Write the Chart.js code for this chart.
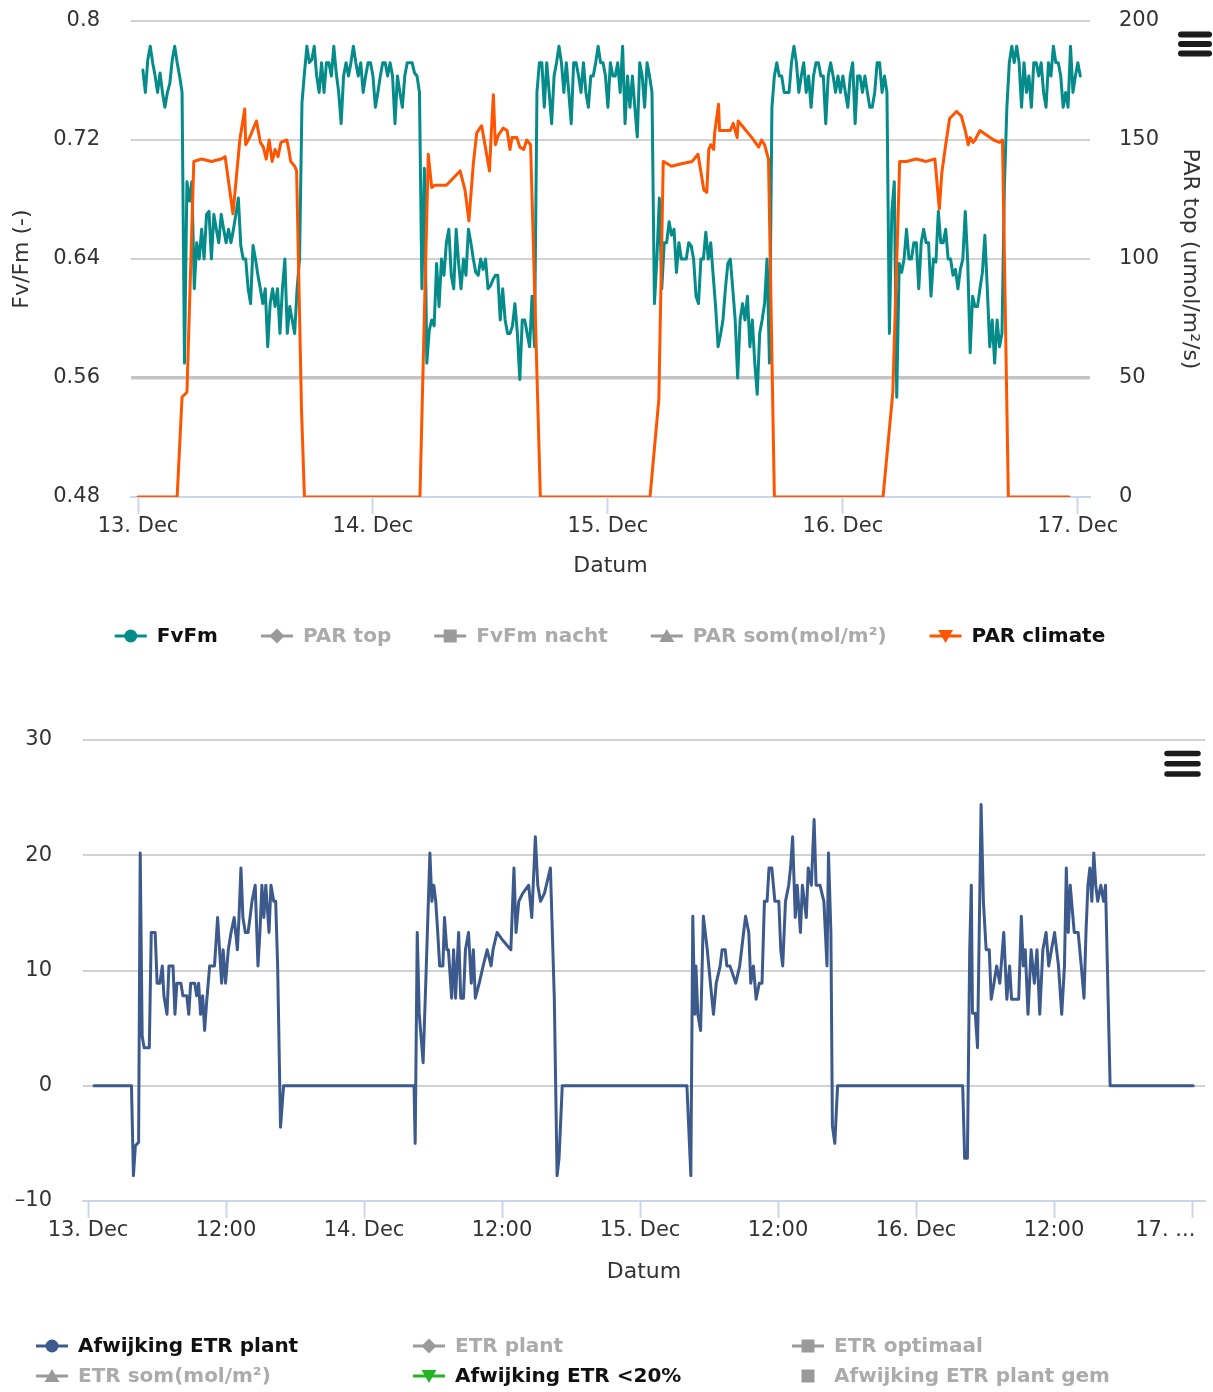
<!DOCTYPE html>
<html>
<head>
<meta charset="utf-8">
<script src="https://cdn.jsdelivr.net/npm/chart.js@4.4.1/dist/chart.umd.min.js"></script>
<style>
html,body{margin:0;padding:0;background:#ffffff;}
#w1{position:absolute;left:0;top:0;width:1213px;height:690px;}
#w2{position:absolute;left:0;top:700px;width:1213px;height:692px;}
canvas{display:block;}
</style>
</head>
<body>
<div id="w1"><canvas id="c1" width="1213" height="690"></canvas></div>
<div id="w2"><canvas id="c2" width="1213" height="692"></canvas></div>
<script>
// ---------- DATA (hours after 13 Dec 00:00) ----------
const topTickHours = [0, 24, 48, 72, 96];
const topTickLabels = ['13. Dec', '14. Dec', '15. Dec', '16. Dec', '17. Dec'];
const bottomTickHours = [0, 12, 24, 36, 48, 60, 72, 84, 96];
const bottomTickLabels = ['13. Dec', '12:00', '14. Dec', '12:00', '15. Dec', '12:00', '16. Dec', '12:00', '17. ...\u2007\u2007\u2007\u2007'];

const fvfmTickValues = [0.48, 0.56, 0.64, 0.72, 0.8];
const fvfmTickLabels = ['0.48', '0.56', '0.64', '0.72', '0.8'];
const parTickValues = [0, 50, 100, 150, 200];
const parTickLabels = ['0', '50', '100', '150', '200'];
const etrTickValues = [-10, 0, 10, 20, 30];
const etrTickLabels = ['\u201310', '0', '10', '20', '30'];

const topLegendLabels = ['FvFm', 'PAR top', 'FvFm nacht', 'PAR som(mol/m\u00b2)', 'PAR climate'];
const bottomLegendLabels = ['Afwijking ETR plant', 'ETR plant', 'ETR optimaal', 'ETR som(mol/m\u00b2)', 'Afwijking ETR <20%', 'Afwijking ETR plant gem'];

// FvFm measured every 15 minutes starting 00:30 on 13 Dec
const fvfmStartHour = 0.5;
const fvfmIntervalHours = 0.25;
const fvfmValues = [
0.767,0.752,0.774,0.783,0.772,0.763,0.752,0.765,0.752,0.742,0.752,0.758,0.774,0.783,0.772,0.763,0.752,
0.570,0.692,0.679,0.692,0.620,0.651,0.640,0.660,0.640,0.670,0.672,0.640,0.670,0.660,0.651,0.670,0.660,0.651,0.660,0.651,0.660,0.670,0.681,0.649,0.640,0.640,0.620,0.610,0.649,0.640,0.629,0.620,0.610,0.620,0.581,0.610,0.620,0.608,0.620,0.590,0.620,0.640,0.590,0.608,0.599,0.590,0.620,0.640,
0.745,0.765,0.783,0.772,0.774,0.783,0.763,0.752,0.772,0.752,0.772,0.772,0.763,0.783,0.765,0.752,0.731,0.763,0.772,0.763,0.772,0.783,0.772,0.763,0.772,0.752,0.763,0.772,0.772,0.763,0.742,0.752,0.763,0.772,0.772,0.763,0.772,0.763,0.731,0.763,0.752,0.742,0.763,0.772,0.772,0.772,0.765,0.763,0.752,
0.620,0.701,0.570,0.592,0.599,0.595,0.637,0.608,0.640,0.629,0.651,0.660,0.629,0.620,0.660,0.637,0.620,0.640,0.629,0.660,0.651,0.640,0.631,0.629,0.640,0.633,0.640,0.620,0.622,0.626,0.629,0.629,0.599,0.620,0.599,0.590,0.590,0.595,0.610,0.590,0.559,0.599,0.599,0.590,0.581,0.615,0.581,
0.752,0.772,0.772,0.742,0.772,0.752,0.731,0.763,0.772,0.783,0.772,0.752,0.772,0.752,0.731,0.772,0.772,0.763,0.752,0.772,0.752,0.742,0.763,0.763,0.772,0.783,0.772,0.772,0.763,0.742,0.772,0.763,0.763,0.772,0.752,0.783,0.731,0.763,0.742,0.763,0.742,0.722,0.772,0.763,0.742,0.772,0.763,0.752,
0.610,0.640,0.681,0.620,0.651,0.651,0.665,0.656,0.660,0.631,0.651,0.640,0.640,0.640,0.651,0.649,0.640,0.615,0.610,0.640,0.640,0.658,0.640,0.651,0.629,0.608,0.581,0.589,0.599,0.620,0.637,0.640,0.620,0.599,0.560,0.599,0.610,0.599,0.615,0.581,0.599,0.570,0.549,0.590,0.599,0.610,0.640,0.570,
0.742,0.763,0.772,0.763,0.763,0.752,0.752,0.752,0.772,0.783,0.772,0.752,0.763,0.772,0.752,0.763,0.742,0.763,0.772,0.772,0.763,0.763,0.731,0.763,0.772,0.763,0.752,0.763,0.752,0.763,0.752,0.742,0.763,0.772,0.731,0.763,0.763,0.752,0.763,0.752,0.742,0.742,0.752,0.772,0.772,0.752,0.763,0.752,
0.590,0.672,0.692,0.547,0.637,0.631,0.640,0.660,0.640,0.640,0.651,0.651,0.620,0.651,0.660,0.651,0.651,0.615,0.640,0.638,0.672,0.651,0.651,0.660,0.640,0.640,0.629,0.633,0.620,0.633,0.640,0.672,0.638,0.577,0.615,0.608,0.608,0.620,0.631,0.656,0.620,0.581,0.599,0.570,0.599,0.581,0.590,0.690,
0.742,0.772,0.783,0.772,0.783,0.772,0.742,0.772,0.752,0.763,0.742,0.772,0.772,0.763,0.772,0.752,0.742,0.772,0.763,0.783,0.772,0.772,0.763,0.742,0.752,0.742,0.783,0.752,0.763,0.772,0.763
];

const parHours = [
0,4.0,4.5,5.0,5.7,6.5,7.5,8.5,8.9,9.7,10.4,10.9,11.0,11.4,12.1,12.5,12.8,13.1,13.4,13.7,14.0,14.3,14.6,15.2,15.4,15.6,16.0,16.2,16.7,17.0,
28.8,29.65,30.0,30.3,31.5,32.9,33.4,33.8,34.25,34.6,35.1,35.4,35.9,36.1,36.3,36.5,36.8,37.3,37.7,38.0,38.2,38.7,39.0,39.4,39.7,40.1,41.1,
52.3,53.2,53.65,54.5,55.5,56.6,57.2,57.6,57.8,58.1,58.3,58.5,58.8,58.9,59.3,59.4,60.5,60.8,61.2,61.3,61.7,62.7,63.4,63.7,64.0,64.4,65.0,
76.1,77.1,77.8,78.5,79.5,80.5,81.4,81.85,82.1,82.5,82.9,83.6,84.1,84.5,84.8,85.0,85.3,85.5,86.0,86.7,87.4,88.0,88.3,88.9,95.1
];
const parValues = [
0,0,42,44,141,142,141,142,143,119,150,163,148,151,158,149,147,142,150,141,146,143,149,150,146,141,139,137,37,0,
0,144,130,131,131,137,129,116,140,153,156,149,137,154,169,148,152,155,154,146,151,151,147,146,150,148,0,
0,41,141,139,140,141,144,134,129,128,146,148,146,153,165,154,154,157,151,158,156,151,147,150,148,142,0,
0,44,141,141,142,141,142,121,136,148,159,162,160,154,148,151,149,150,154,152,150,149,150,0,0
];

const etrHours = [
0.52,3.78,3.95,4.12,4.40,4.54,4.71,4.88,5.33,5.50,5.84,6.01,6.25,6.46,6.60,6.87,7.04,7.39,7.56,7.73,8.08,8.25,8.59,8.76,8.93,9.28,9.45,9.62,9.79,9.97,10.14,10.31,10.58,11.00,11.27,11.44,11.62,11.75,11.96,12.20,12.44,12.71,12.99,13.13,13.30,13.47,13.68,13.92,14.09,14.26,14.54,14.78,14.95,15.12,15.29,15.46,15.74,15.91,16.15,16.32,16.49,16.74,17.01,28.35,
28.45,28.63,28.80,29.14,29.38,29.73,29.90,30.07,30.24,30.41,30.58,30.86,31.00,31.20,31.34,31.62,31.79,31.96,32.23,32.41,32.65,32.82,33.09,33.33,33.51,33.68,34.02,34.36,34.71,35.05,35.22,35.57,36.08,36.77,37.04,37.22,37.46,37.80,38.32,38.59,38.90,39.11,39.35,39.69,40.21,40.55,40.79,40.96,41.24,
52.08,52.42,52.59,52.76,52.86,53.03,53.27,53.51,53.85,54.12,54.39,54.63,54.97,55.14,55.41,55.55,55.82,56.33,56.67,57.01,57.18,57.46,57.63,57.86,58.10,58.37,58.61,58.82,59.05,59.22,59.46,59.73,60.07,60.24,60.41,60.65,60.93,61.10,61.27,61.50,61.67,61.95,62.12,62.46,62.63,62.90,63.14,63.31,63.65,63.99,64.26,64.39,64.60,64.73,64.94,65.18,76.06,
76.23,76.47,76.67,76.81,76.91,77.15,77.35,77.66,77.86,78.10,78.37,78.54,78.78,79.01,79.29,79.63,79.90,80.14,80.31,80.65,80.93,81.16,81.33,81.50,81.74,82.01,82.29,82.52,82.76,83.03,83.31,83.54,83.78,84.05,84.39,84.67,84.91,85.07,85.24,85.41,85.76,86.10,86.37,86.61,86.78,86.95,87.12,87.29,87.46,87.63,87.80,88.07,88.31,88.48,88.88,96.10
];
const etrValues = [
0,0,-7.8,-5.2,-4.9,20.2,4.3,3.3,3.3,13.3,13.3,8.9,8.9,10.4,7.8,6.2,10.4,10.4,6.2,8.9,8.9,7.8,7.8,6.2,8.9,8.9,7.8,8.9,6.2,7.8,4.8,7.2,10.4,10.4,14.6,11.8,8.9,11.8,8.9,11.8,13.3,14.6,11.8,14.6,18.9,14.6,13.3,13.3,14.6,16.0,17.4,10.4,13.3,17.4,14.6,17.4,13.3,17.4,16.0,16.0,10.4,-3.6,0,0,
-5.0,13.3,6.3,2.0,9.2,20.2,16.0,17.4,16.0,13.3,10.4,10.4,14.6,11.8,11.8,7.6,11.8,7.6,13.3,7.6,7.6,11.8,13.3,8.9,11.8,7.6,8.9,10.4,11.8,10.4,11.8,13.3,12.6,11.8,18.9,13.3,16.0,16.7,17.4,14.6,21.6,17.4,16.0,16.7,18.9,7.5,-7.8,-6.3,0,
0,-7.8,14.7,6.2,10.4,6.2,4.8,14.7,11.8,8.9,6.2,8.9,10.4,11.8,11.8,10.4,10.4,8.9,10.4,13.3,14.7,13.3,8.9,10.4,7.5,8.9,8.9,16.0,16.0,18.9,18.9,16.0,16.0,11.8,10.4,16.0,17.4,19.0,21.6,14.6,17.4,13.3,17.4,14.6,18.9,17.4,23.1,17.4,17.4,16.0,10.4,20.2,13.3,-3.5,-5.0,0,0,
-6.3,-6.3,11.8,17.4,6.3,6.3,3.3,24.4,16.0,11.8,11.8,7.5,8.9,10.4,8.9,13.3,7.5,10.4,7.5,7.5,7.5,14.7,10.4,11.8,6.2,11.8,8.9,11.8,6.2,11.8,13.3,10.4,11.8,13.3,10.4,6.2,10.4,18.9,13.3,17.4,13.3,13.3,10.4,7.6,13.3,17.4,18.9,16.0,20.2,17.4,16.0,17.4,16.0,17.4,0,0
];

// ---------- STYLE ----------
const FONT = "'DejaVu Sans', sans-serif";
const tickFont = {family: FONT, size: 21};
const titleFont = {family: FONT, size: 22};
const TEXT = '#333333';
const GRID = '#d2d2d2';
const AXIS = '#ccd6eb';
const TEAL = '#058c8a';
const ORANGE = '#ff5500';
const BLUE = '#3d5a8d';
const GREEN = '#23b423';
const HIDDEN_SYMBOL = '#9a9a9a';
const HIDDEN_TEXT = '#ababab';

Chart.defaults.font.family = FONT;

function drawMarker(ctx, style, x, y, color) {
  ctx.fillStyle = color;
  ctx.beginPath();
  if (style === 'circle') ctx.arc(x, y, 6.5, 0, Math.PI * 2);
  else if (style === 'diamond') { ctx.moveTo(x, y - 7.5); ctx.lineTo(x + 7.5, y); ctx.lineTo(x, y + 7.5); ctx.lineTo(x - 7.5, y); ctx.closePath(); }
  else if (style === 'square') ctx.rect(x - 6.5, y - 6.5, 13, 13);
  else if (style === 'triangle') { ctx.moveTo(x, y - 7); ctx.lineTo(x + 7.5, y + 6); ctx.lineTo(x - 7.5, y + 6); ctx.closePath(); }
  else if (style === 'triangle-down') { ctx.moveTo(x, y + 7); ctx.lineTo(x + 7.5, y - 6); ctx.lineTo(x - 7.5, y - 6); ctx.closePath(); }
  ctx.fill();
}

function legendPlugin(cfg) {
  return {
    id: 'hcLegend',
    afterDraw(chart) {
      const ctx = chart.ctx;
      ctx.save();
      ctx.font = 'bold 20px ' + FONT;
      const items = chart.data.datasets.map((ds, i) => ({
        text: ds.label, color: ds.legendColor, style: ds.legendSymbol,
        line: ds.legendLine !== false, visible: chart.isDatasetVisible(i)
      }));
      let pos;
      if (cfg.columns) {
        pos = items.map((it, i) => ({x: cfg.columns[i % cfg.columns.length], y: cfg.rows[Math.floor(i / cfg.columns.length)]}));
      } else {
        const widths = items.map(it => 42 + ctx.measureText(it.text).width);
        const total = widths.reduce((a, b) => a + b, 0) + cfg.gap * (items.length - 1);
        let x = cfg.centerX - total / 2;
        pos = widths.map(w => { const p = {x: x, y: cfg.y}; x += w + cfg.gap; return p; });
      }
      items.forEach((it, i) => {
        const p = pos[i];
        const sc = it.visible ? it.color : HIDDEN_SYMBOL;
        if (it.line) {
          ctx.strokeStyle = sc; ctx.lineWidth = 3;
          ctx.beginPath(); ctx.moveTo(p.x, p.y); ctx.lineTo(p.x + 32, p.y); ctx.stroke();
        }
        drawMarker(ctx, it.style, p.x + 16, p.y, sc);
        ctx.fillStyle = it.visible ? '#111111' : HIDDEN_TEXT;
        ctx.textAlign = 'left'; ctx.textBaseline = 'middle';
        ctx.fillText(it.text, p.x + 42, p.y + 1);
      });
      ctx.restore();
    }
  };
}

function menuPlugin(x1, x2, ys, w) {
  return {
    id: 'menuIcon',
    afterDraw(chart) {
      const c = chart.ctx;
      c.save();
      c.strokeStyle = '#1b1b1b'; c.lineWidth = w; c.lineCap = 'round';
      ys.forEach(y => { c.beginPath(); c.moveTo(x1, y); c.lineTo(x2, y); c.stroke(); });
      c.restore();
    }
  };
}

function xScale(min, max, hours, labels, titlePadBottom) {
  return {
    type: 'linear', position: 'bottom', min: min, max: max,
    afterBuildTicks: s => { s.ticks = hours.map(v => ({value: v})); },
    afterFit: s => { s.height = 90; s.paddingLeft = 0; s.paddingRight = 0; },
    ticks: {autoSkip: false, maxRotation: 0, minRotation: 0, padding: 0, font: tickFont, color: TEXT,
      callback: (v, i) => labels[i]},
    grid: {drawOnChartArea: false, drawTicks: true, tickLength: 17, tickColor: AXIS, tickWidth: 2},
    border: {display: true, color: AXIS, width: 2},
    title: {display: true, text: 'Datum', font: titleFont, color: TEXT, padding: {top: 0, bottom: titlePadBottom}}
  };
}

function fitY(width) {
  return s => { s.width = width; s.paddingTop = 0; s.paddingBottom = 0; };
}

function lineSet(label, xs, ys, color, axis, symbol, order) {
  return {
    label: label, data: xs.map((x, i) => ({x: x, y: ys[i]})), yAxisID: axis,
    borderColor: color, backgroundColor: color, borderWidth: 3, pointRadius: 0, tension: 0,
    borderJoinStyle: 'round', borderCapStyle: 'round', fill: false,
    legendColor: color, legendSymbol: symbol, order: order
  };
}
function hiddenSet(label, axis, symbol, line) {
  return {label: label, data: [], yAxisID: axis, hidden: true, legendColor: HIDDEN_SYMBOL, legendSymbol: symbol, legendLine: line !== false};
}

// ---------- TOP CHART ----------
const fvfmHours = fvfmValues.map((v, i) => fvfmStartHour + i * fvfmIntervalHours);

new Chart(document.getElementById('c1'), {
  type: 'line',
  data: {
    datasets: [
      lineSet(topLegendLabels[0], fvfmHours, fvfmValues, TEAL, 'y', 'circle', 1),
      hiddenSet(topLegendLabels[1], 'y2', 'diamond'),
      hiddenSet(topLegendLabels[2], 'y', 'square'),
      hiddenSet(topLegendLabels[3], 'y2', 'triangle'),
      lineSet(topLegendLabels[4], parHours, parValues, ORANGE, 'y2', 'triangle-down', 0)
    ]
  },
  options: {
    responsive: false, animation: false, devicePixelRatio: 1,
    layout: {padding: {top: 21, bottom: 103, left: 0, right: 0}},
    plugins: {legend: {display: false}, tooltip: {enabled: false}},
    scales: {
      x: xScale(-0.715, 97.24, topTickHours, topTickLabels, 8),
      y: {
        type: 'linear', position: 'left', min: 0.48, max: 0.8,
        afterBuildTicks: s => { s.ticks = fvfmTickValues.map(v => ({value: v})); },
        afterFit: fitY(131),
        ticks: {padding: 31, font: tickFont, color: TEXT, callback: (v, i) => fvfmTickLabels[i]},
        grid: {drawTicks: false,
          color: c => (c.tick && c.tick.value === 0.48) ? 'rgba(0,0,0,0)' : (c.tick && c.tick.value === 0.56 ? '#c4c4c4' : GRID),
          lineWidth: c => (c.tick && c.tick.value === 0.56) ? 3.5 : 2},
        border: {display: false},
        title: {display: true, text: 'Fv/Fm (-)', font: titleFont, color: TEXT, padding: {top: 9, bottom: 0}}
      },
      y2: {
        type: 'linear', position: 'right', min: 0, max: 200,
        afterBuildTicks: s => { s.ticks = parTickValues.map(v => ({value: v})); },
        afterFit: fitY(123),
        ticks: {padding: 29, font: tickFont, color: TEXT, callback: (v, i) => parTickLabels[i]},
        grid: {display: false, drawTicks: false, drawOnChartArea: false},
        border: {display: false},
        title: {display: true, text: 'PAR top (umol/m\u00b2/s)', font: titleFont, color: TEXT, padding: {top: 10, bottom: 0}}
      }
    }
  },
  plugins: [legendPlugin({centerX: 610, y: 636, gap: 43}), menuPlugin(1181, 1209, [34.5, 44, 53.5], 6)]
});

// ---------- BOTTOM CHART ----------
new Chart(document.getElementById('c2'), {
  type: 'line',
  data: {
    datasets: [
      lineSet(bottomLegendLabels[0], etrHours, etrValues, BLUE, 'y', 'circle', 0),
      hiddenSet(bottomLegendLabels[1], 'y', 'diamond'),
      hiddenSet(bottomLegendLabels[2], 'y', 'square'),
      hiddenSet(bottomLegendLabels[3], 'y', 'triangle'),
      {label: bottomLegendLabels[4], data: [], yAxisID: 'y', borderColor: GREEN, borderWidth: 3, pointRadius: 0,
        legendColor: GREEN, legendSymbol: 'triangle-down'},
      hiddenSet(bottomLegendLabels[5], 'y', 'square', false)
    ]
  },
  options: {
    responsive: false, animation: false, devicePixelRatio: 1,
    layout: {padding: {top: 40, bottom: 101, left: 0, right: 8}},
    plugins: {legend: {display: false}, tooltip: {enabled: false}},
    scales: {
      x: xScale(-0.435, 97.13, bottomTickHours, bottomTickLabels, 6),
      y: {
        type: 'linear', position: 'left', min: -10, max: 30,
        afterBuildTicks: s => { s.ticks = etrTickValues.map(v => ({value: v})); },
        afterFit: fitY(83),
        ticks: {padding: 31, font: tickFont, color: TEXT, callback: (v, i) => etrTickLabels[i]},
        grid: {drawTicks: false,
          color: c => (c.tick && c.tick.value === -10) ? 'rgba(0,0,0,0)' : GRID,
          lineWidth: 2},
        border: {display: false}
      }
    }
  },
  plugins: [legendPlugin({columns: [36, 413, 792], rows: [646, 676]}), menuPlugin(1167, 1198, [53.5, 63.8, 74], 5.5)]
});
</script>
</body>
</html>
